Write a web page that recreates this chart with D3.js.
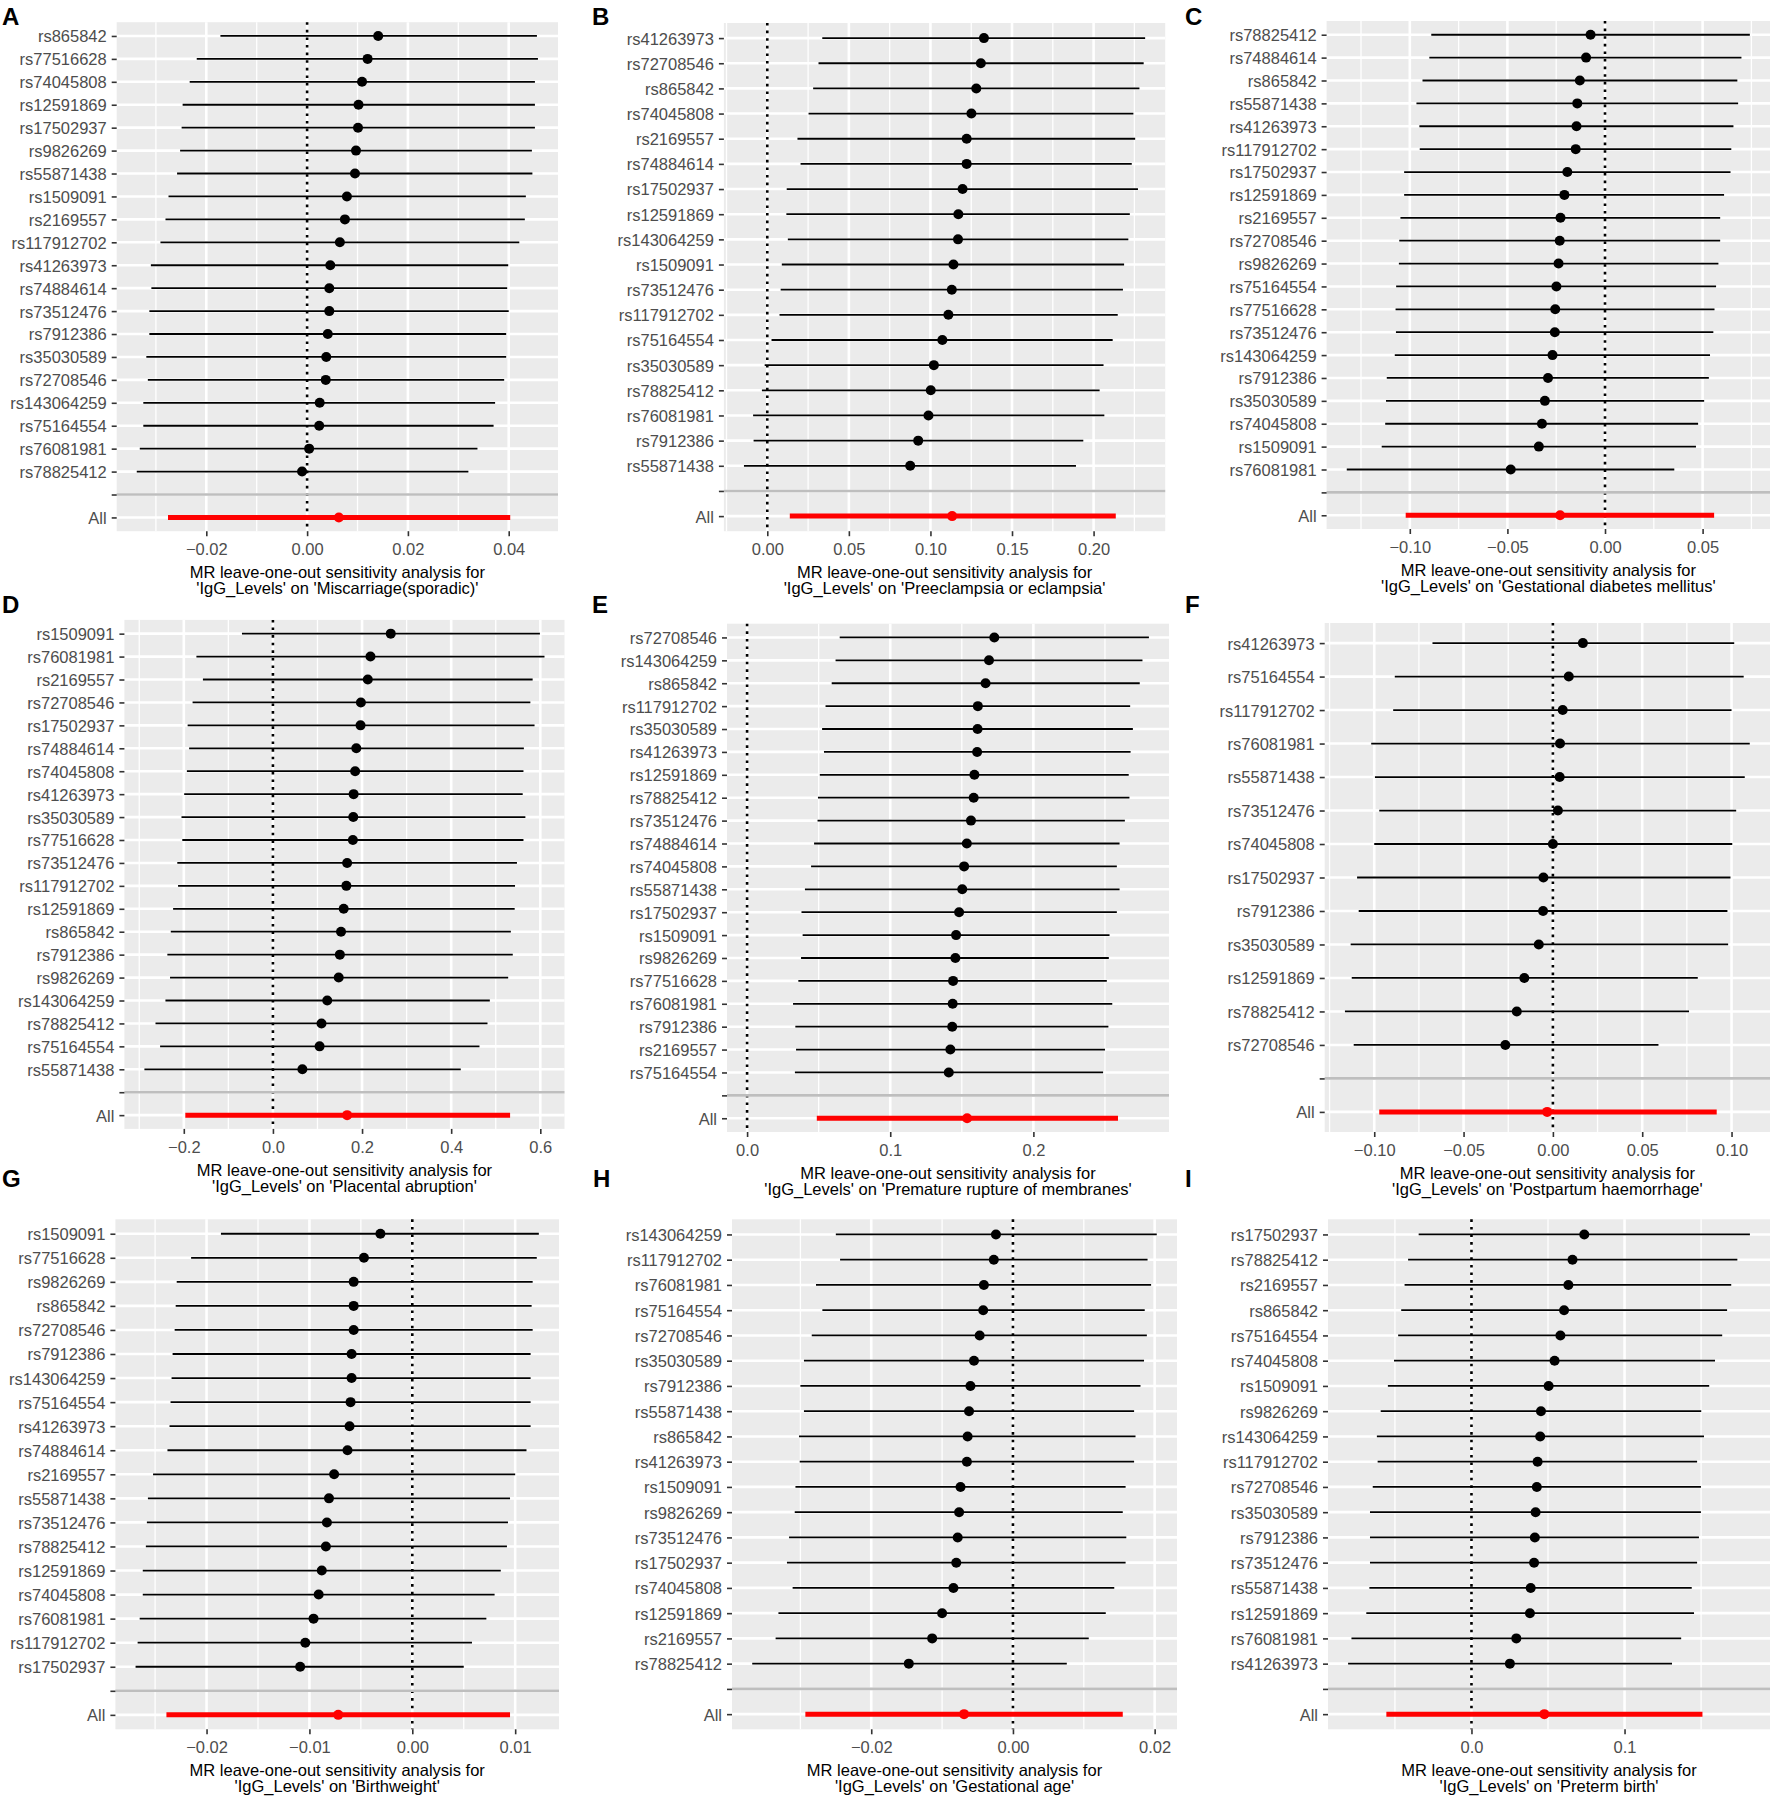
<!DOCTYPE html>
<html><head><meta charset="utf-8">
<script src="https://cdn.jsdelivr.net/npm/d3@7"></script>
<style>
body{margin:0;background:#fff;}
text{font-family:"Liberation Sans",Arial,Helvetica,sans-serif;}
</style></head>
<body><svg id="fig" width="1773" height="1805"></svg>
<script>
// ---------------- DATA ----------------
const snps_A=["rs865842","rs77516628","rs74045808","rs12591869","rs17502937","rs9826269","rs55871438","rs1509091","rs2169557","rs117912702","rs41263973","rs74884614","rs73512476","rs7912386","rs35030589","rs72708546","rs143064259","rs75164554","rs76081981","rs78825412"];
const b_A=[0.0141,0.0120,0.0109,0.0102,0.0101,0.0097,0.0095,0.0079,0.0075,0.0065,0.0046,0.0044,0.0044,0.0041,0.0038,0.0037,0.0025,0.0024,0.0004,-0.0010];
const lo_A=[-0.0172,-0.0219,-0.0233,-0.0247,-0.0249,-0.0252,-0.0258,-0.0275,-0.0281,-0.0291,-0.0310,-0.0309,-0.0313,-0.0313,-0.0319,-0.0316,-0.0325,-0.0325,-0.0332,-0.0338];
const up_A=[0.0456,0.0458,0.0452,0.0452,0.0452,0.0446,0.0447,0.0434,0.0432,0.0421,0.0399,0.0397,0.0400,0.0395,0.0395,0.0391,0.0373,0.0370,0.0338,0.0320];
const all_A=[-0.0276,0.0063,0.0403];
const ticks_A=[-0.02,0,0.02,0.04], tickLabels_A=["−0.02","0.00","0.02","0.04"];

const snps_B=["rs41263973","rs72708546","rs865842","rs74045808","rs2169557","rs74884614","rs17502937","rs12591869","rs143064259","rs1509091","rs73512476","rs117912702","rs75164554","rs35030589","rs78825412","rs76081981","rs7912386","rs55871438"];
const b_B=[0.1328,0.1309,0.1281,0.1251,0.1222,0.1222,0.1197,0.1171,0.1169,0.1141,0.1131,0.1110,0.1073,0.1021,0.1002,0.0988,0.0925,0.0876];
const lo_B=[0.0337,0.0314,0.0281,0.0253,0.0185,0.0204,0.0119,0.0117,0.0126,0.0089,0.0082,0.0075,0.0026,-0.0016,-0.0033,-0.0087,-0.0084,-0.0143];
const up_B=[0.2316,0.2307,0.2281,0.2244,0.2255,0.2234,0.2272,0.2222,0.2213,0.2187,0.2180,0.2148,0.2117,0.2061,0.2037,0.2066,0.1937,0.1892];
const all_B=[0.0138,0.1133,0.2136];
const ticks_B=[0,0.05,0.1,0.15,0.2], tickLabels_B=["0.00","0.05","0.10","0.15","0.20"];

const snps_C=["rs78825412","rs74884614","rs865842","rs55871438","rs41263973","rs117912702","rs17502937","rs12591869","rs2169557","rs72708546","rs9826269","rs75164554","rs77516628","rs73512476","rs143064259","rs7912386","rs35030589","rs74045808","rs1509091","rs76081981"];
const b_C=[-0.0074,-0.0097,-0.0129,-0.0142,-0.0146,-0.0150,-0.0193,-0.0208,-0.0228,-0.0232,-0.0238,-0.0249,-0.0255,-0.0257,-0.0269,-0.0292,-0.0308,-0.0323,-0.0339,-0.0483];
const lo_C=[-0.0890,-0.0900,-0.0935,-0.0966,-0.0951,-0.0949,-0.1029,-0.1029,-0.1048,-0.1054,-0.1056,-0.1070,-0.1073,-0.1071,-0.1077,-0.1118,-0.1122,-0.1126,-0.1144,-0.1323];
const up_C=[0.0742,0.0699,0.0678,0.0682,0.0658,0.0647,0.0643,0.0610,0.0590,0.0590,0.0581,0.0569,0.0561,0.0555,0.0538,0.0532,0.0508,0.0477,0.0466,0.0355];
const all_C=[-0.1021,-0.0230,0.0559];
const ticks_C=[-0.1,-0.05,0,0.05], tickLabels_C=["−0.10","−0.05","0.00","0.05"];

const snps_D=["rs1509091","rs76081981","rs2169557","rs72708546","rs17502937","rs74884614","rs74045808","rs41263973","rs35030589","rs77516628","rs73512476","rs117912702","rs12591869","rs865842","rs7912386","rs9826269","rs143064259","rs78825412","rs75164554","rs55871438"];
const b_D=[0.2644,0.2189,0.2129,0.1974,0.1966,0.1871,0.1845,0.1811,0.1803,0.1794,0.1665,0.1648,0.1588,0.1528,0.1502,0.1476,0.1219,0.1090,0.1047,0.0661];
const lo_D=[-0.0695,-0.1717,-0.1571,-0.1803,-0.1914,-0.1880,-0.1931,-0.1991,-0.2052,-0.2034,-0.2146,-0.2129,-0.2240,-0.2292,-0.2369,-0.2309,-0.2412,-0.2635,-0.2532,-0.2884];
const up_D=[0.5991,0.6094,0.5828,0.5777,0.5871,0.5631,0.5622,0.5605,0.5665,0.5622,0.5476,0.5433,0.5425,0.5339,0.5382,0.5279,0.4867,0.4815,0.4635,0.4215];
const all_D=[-0.1966,0.1665,0.5322];
const ticks_D=[-0.2,0,0.2,0.4,0.6], tickLabels_D=["−0.2","0.0","0.2","0.4","0.6"];

const snps_E=["rs72708546","rs143064259","rs865842","rs117912702","rs35030589","rs41263973","rs12591869","rs78825412","rs73512476","rs74884614","rs74045808","rs55871438","rs17502937","rs1509091","rs9826269","rs77516628","rs76081981","rs7912386","rs2169557","rs75164554"];
const b_E=[0.1727,0.1690,0.1666,0.1612,0.1610,0.1607,0.1588,0.1583,0.1564,0.1535,0.1516,0.1503,0.1481,0.1460,0.1455,0.1439,0.1436,0.1433,0.1420,0.1409];
const lo_E=[0.0647,0.0618,0.0591,0.0548,0.0524,0.0537,0.0508,0.0495,0.0492,0.0468,0.0447,0.0404,0.0380,0.0388,0.0377,0.0358,0.0321,0.0337,0.0342,0.0334];
const up_E=[0.2807,0.2762,0.2743,0.2676,0.2695,0.2679,0.2666,0.2671,0.2639,0.2602,0.2583,0.2602,0.2583,0.2532,0.2527,0.2513,0.2551,0.2524,0.2500,0.2487];
const all_E=[0.0487,0.1537,0.2591];
const ticks_E=[0,0.1,0.2], tickLabels_E=["0.0","0.1","0.2"];

const snps_F=["rs41263973","rs75164554","rs117912702","rs76081981","rs55871438","rs73512476","rs74045808","rs17502937","rs7912386","rs35030589","rs12591869","rs78825412","rs72708546"];
const b_F=[0.0168,0.0089,0.0055,0.0040,0.0038,0.0028,0.0000,-0.0053,-0.0055,-0.0079,-0.0160,-0.0202,-0.0266];
const lo_F=[-0.0674,-0.0885,-0.0894,-0.1017,-0.0996,-0.0972,-0.1000,-0.1096,-0.1087,-0.1132,-0.1126,-0.1164,-0.1115];
const up_F=[0.1015,0.1068,0.1000,0.1102,0.1074,0.1026,0.1004,0.0994,0.0977,0.0981,0.0811,0.0762,0.0591];
const all_F=[-0.0972,-0.0032,0.0917];
const ticks_F=[-0.1,-0.05,0,0.05,0.1], tickLabels_F=["−0.10","−0.05","0.00","0.05","0.10"];

const snps_G=["rs1509091","rs77516628","rs9826269","rs865842","rs72708546","rs7912386","rs143064259","rs75164554","rs41263973","rs74884614","rs2169557","rs55871438","rs73512476","rs78825412","rs12591869","rs74045808","rs76081981","rs117912702","rs17502937"];
const b_G=[-0.0031,-0.0047,-0.0057,-0.0057,-0.0057,-0.0059,-0.0059,-0.0060,-0.0061,-0.0063,-0.0076,-0.0081,-0.0083,-0.0084,-0.0088,-0.0091,-0.0096,-0.0104,-0.0109];
const lo_G=[-0.0186,-0.0215,-0.0229,-0.0230,-0.0231,-0.0233,-0.0234,-0.0235,-0.0236,-0.0238,-0.0252,-0.0257,-0.0258,-0.0259,-0.0262,-0.0262,-0.0265,-0.0267,-0.0269];
const up_G=[0.0123,0.0121,0.0117,0.0116,0.0117,0.0115,0.0115,0.0115,0.0115,0.0111,0.0100,0.0095,0.0093,0.0092,0.0086,0.0080,0.0072,0.0058,0.0050];
const all_G=[-0.0239,-0.0072,0.0095];
const ticks_G=[-0.02,-0.01,0,0.01], tickLabels_G=["−0.02","−0.01","0.00","0.01"];

const snps_H=["rs143064259","rs117912702","rs76081981","rs75164554","rs72708546","rs35030589","rs7912386","rs55871438","rs865842","rs41263973","rs1509091","rs9826269","rs73512476","rs17502937","rs74045808","rs12591869","rs2169557","rs78825412"];
const b_H=[-0.0024,-0.0027,-0.0041,-0.0042,-0.0047,-0.0055,-0.0060,-0.0062,-0.0064,-0.0065,-0.0074,-0.0076,-0.0078,-0.0080,-0.0084,-0.0100,-0.0114,-0.0147];
const lo_H=[-0.0250,-0.0244,-0.0278,-0.0269,-0.0284,-0.0295,-0.0300,-0.0295,-0.0302,-0.0301,-0.0307,-0.0308,-0.0316,-0.0319,-0.0311,-0.0331,-0.0335,-0.0368];
const up_H=[0.0203,0.0190,0.0195,0.0186,0.0189,0.0185,0.0180,0.0171,0.0173,0.0171,0.0159,0.0155,0.0160,0.0159,0.0143,0.0131,0.0107,0.0076];
const all_H=[-0.0293,-0.0069,0.0155];
const ticks_H=[-0.02,0,0.02], tickLabels_H=["−0.02","0.00","0.02"];

const snps_I=["rs17502937","rs78825412","rs2169557","rs865842","rs75164554","rs74045808","rs1509091","rs9826269","rs143064259","rs117912702","rs72708546","rs35030589","rs7912386","rs73512476","rs55871438","rs12591869","rs76081981","rs41263973"];
const b_I=[0.0737,0.0660,0.0633,0.0605,0.0581,0.0543,0.0504,0.0454,0.0449,0.0432,0.0427,0.0419,0.0414,0.0409,0.0387,0.0382,0.0293,0.0251];
const lo_I=[-0.0345,-0.0414,-0.0437,-0.0459,-0.0479,-0.0506,-0.0546,-0.0593,-0.0618,-0.0613,-0.0645,-0.0663,-0.0663,-0.0663,-0.0667,-0.0687,-0.0784,-0.0806];
const up_I=[0.1819,0.1737,0.1697,0.1670,0.1638,0.1591,0.1553,0.1501,0.1519,0.1474,0.1499,0.1499,0.1486,0.1474,0.1439,0.1454,0.1370,0.1310];
const all_I=[-0.0556,0.0476,0.1509];
const ticks_I=[0,0.1], tickLabels_I=["0.0","0.1"];

const panelLetters=["A","B","C","D","E","F","G","H","I"];
const outcomes=["Miscarriage(sporadic)","Preeclampsia or eclampsia","Gestational diabetes mellitus","Placental abruption","Premature rupture of membranes","Postpartum haemorrhage","Birthweight","Gestational age","Preterm birth"];
const exposure="IgG_Levels";

// ---------------- LAYOUT (plot-area boxes in px) ----------------
const layout=[
 {x0:116.7,x1:558.0,y0:22.2,y1:531.2,lx:2,ly:25},
 {x0:723.9,x1:1165.2,y0:23.0,y1:531.2,lx:592,ly:25},
 {x0:1326.6,x1:1770,y0:21.0,y1:529.0,lx:1185,ly:25},
 {x0:124.4,x1:564.5,y0:619.9,y1:1128.9,lx:2,ly:613},
 {x0:727.0,x1:1169.0,y0:623.7,y1:1132.0,lx:592,ly:613},
 {x0:1324.7,x1:1770,y0:623.0,y1:1132.0,lx:1185,ly:613},
 {x0:115.4,x1:559.0,y0:1219.3,y1:1729.3,lx:2,ly:1187},
 {x0:732.0,x1:1177.0,y0:1219.3,y1:1729.3,lx:593,ly:1187},
 {x0:1328.0,x1:1770,y0:1219.3,y1:1729.3,lx:1185,ly:1187}
];

const dataSets=[
 [snps_A,b_A,lo_A,up_A,all_A,ticks_A,tickLabels_A],
 [snps_B,b_B,lo_B,up_B,all_B,ticks_B,tickLabels_B],
 [snps_C,b_C,lo_C,up_C,all_C,ticks_C,tickLabels_C],
 [snps_D,b_D,lo_D,up_D,all_D,ticks_D,tickLabels_D],
 [snps_E,b_E,lo_E,up_E,all_E,ticks_E,tickLabels_E],
 [snps_F,b_F,lo_F,up_F,all_F,ticks_F,tickLabels_F],
 [snps_G,b_G,lo_G,up_G,all_G,ticks_G,tickLabels_G],
 [snps_H,b_H,lo_H,up_H,all_H,ticks_H,tickLabels_H],
 [snps_I,b_I,lo_I,up_I,all_I,ticks_I,tickLabels_I]
];

const svg=d3.select("#fig");
svg.append("rect").attr("width",1773).attr("height",1805).attr("fill","#fff");

const FS=16.5;

dataSets.forEach((ds,pi)=>{
  const [snps,b,lo,up,all,ticks,tickLabels]=ds;
  const L=layout[pi];
  const rows=snps.map((s,i)=>({snp:s,b:b[i],lo:lo[i],up:up[i],tot:false}));
  rows.push({snp:"All",b:all[1],lo:all[0],up:all[2],tot:true});
  const levels=snps.concat(["","All"]);

  const mn=Math.min(0,d3.min(rows,d=>d.lo)), mx=Math.max(0,d3.max(rows,d=>d.up));
  const pad=(mx-mn)*0.05;
  const x=d3.scaleLinear().domain([mn-pad,mx+pad]).range([L.x0,L.x1]);
  const y=d3.scalePoint().domain(levels).range([L.y0,L.y1]).padding(0.6);

  const g=svg.append("g");
  g.append("rect").attr("x",L.x0).attr("y",L.y0).attr("width",L.x1-L.x0).attr("height",L.y1-L.y0).attr("fill","#EBEBEB");

  // minor grid
  const step=ticks[1]-ticks[0];
  const dom=x.domain();
  const minors=[];
  for(let v=ticks[0]-step/2; v<=dom[1]+1e-12; v+=step){ if(v>=dom[0]) minors.push(v); }
  for(let v=ticks[0]-step/2-step; v>=dom[0]; v-=step){ minors.push(v); }
  g.selectAll(".minor").data(minors).join("line")
    .attr("x1",d=>x(d)).attr("x2",d=>x(d)).attr("y1",L.y0).attr("y2",L.y1)
    .attr("stroke","#fff").attr("stroke-width",1.3);
  // major grid
  g.selectAll(".majx").data(ticks).join("line")
    .attr("x1",d=>x(d)).attr("x2",d=>x(d)).attr("y1",L.y0).attr("y2",L.y1)
    .attr("stroke","#fff").attr("stroke-width",2.6);
  g.selectAll(".majy").data(levels).join("line")
    .attr("x1",L.x0).attr("x2",L.x1).attr("y1",d=>y(d)).attr("y2",d=>y(d))
    .attr("stroke","#fff").attr("stroke-width",2.6);

  // dotted zero line
  g.append("line").attr("x1",x(0)).attr("x2",x(0)).attr("y1",L.y0).attr("y2",L.y1)
    .attr("stroke","#000").attr("stroke-width",2.6).attr("stroke-dasharray","2.6,5");

  // error bars
  g.selectAll(".eb").data(rows).join("line")
    .attr("x1",d=>x(d.lo)).attr("x2",d=>x(d.up)).attr("y1",d=>y(d.snp)).attr("y2",d=>y(d.snp))
    .attr("stroke",d=>d.tot?"#FF0000":"#000").attr("stroke-width",d=>d.tot?5:1.8);
  // points
  g.selectAll(".pt").data(rows).join("circle")
    .attr("cx",d=>x(d.b)).attr("cy",d=>y(d.snp)).attr("r",5)
    .attr("fill",d=>d.tot?"#FF0000":"#000");
  // grey separator line
  g.append("line").attr("x1",L.x0).attr("x2",L.x1).attr("y1",y("")).attr("y2",y(""))
    .attr("stroke","#BEBEBE").attr("stroke-width",2.6);

  // axes
  const xa=g.append("g").attr("transform",`translate(0,${L.y1})`)
    .call(d3.axisBottom(x).tickValues(ticks).tickFormat((d,i)=>tickLabels[i]).tickSize(5).tickPadding(3));
  const ya=g.append("g").attr("transform",`translate(${L.x0},0)`)
    .call(d3.axisLeft(y).tickSize(5).tickPadding(5));
  [xa,ya].forEach(a=>{
    a.select(".domain").remove();
    a.selectAll(".tick line").attr("stroke","#333").attr("stroke-width",1.6);
    a.selectAll(".tick text").attr("fill","#4D4D4D").style("font-size",FS+"px")
      .style("font-family",'"Liberation Sans",Arial,Helvetica,sans-serif');
  });
  xa.selectAll(".tick text").attr("y",24).attr("dy","0");
  ya.selectAll(".tick text").attr("dy","0.36em");

  // axis title
  const cx=(L.x0+L.x1)/2;
  g.append("text").attr("x",cx).attr("y",L.y1+47).attr("text-anchor","middle")
    .style("font-size",FS+"px").attr("fill","#000").text("MR leave-one-out sensitivity analysis for");
  g.append("text").attr("x",cx).attr("y",L.y1+63).attr("text-anchor","middle")
    .style("font-size",FS+"px").attr("fill","#000").text(`'${exposure}' on '${outcomes[pi]}'`);

  // panel letter
  g.append("text").attr("x",L.lx).attr("y",L.ly).style("font-size","24px").style("font-weight","bold")
    .attr("fill","#000").text(panelLetters[pi]);
});
</script></body></html>
